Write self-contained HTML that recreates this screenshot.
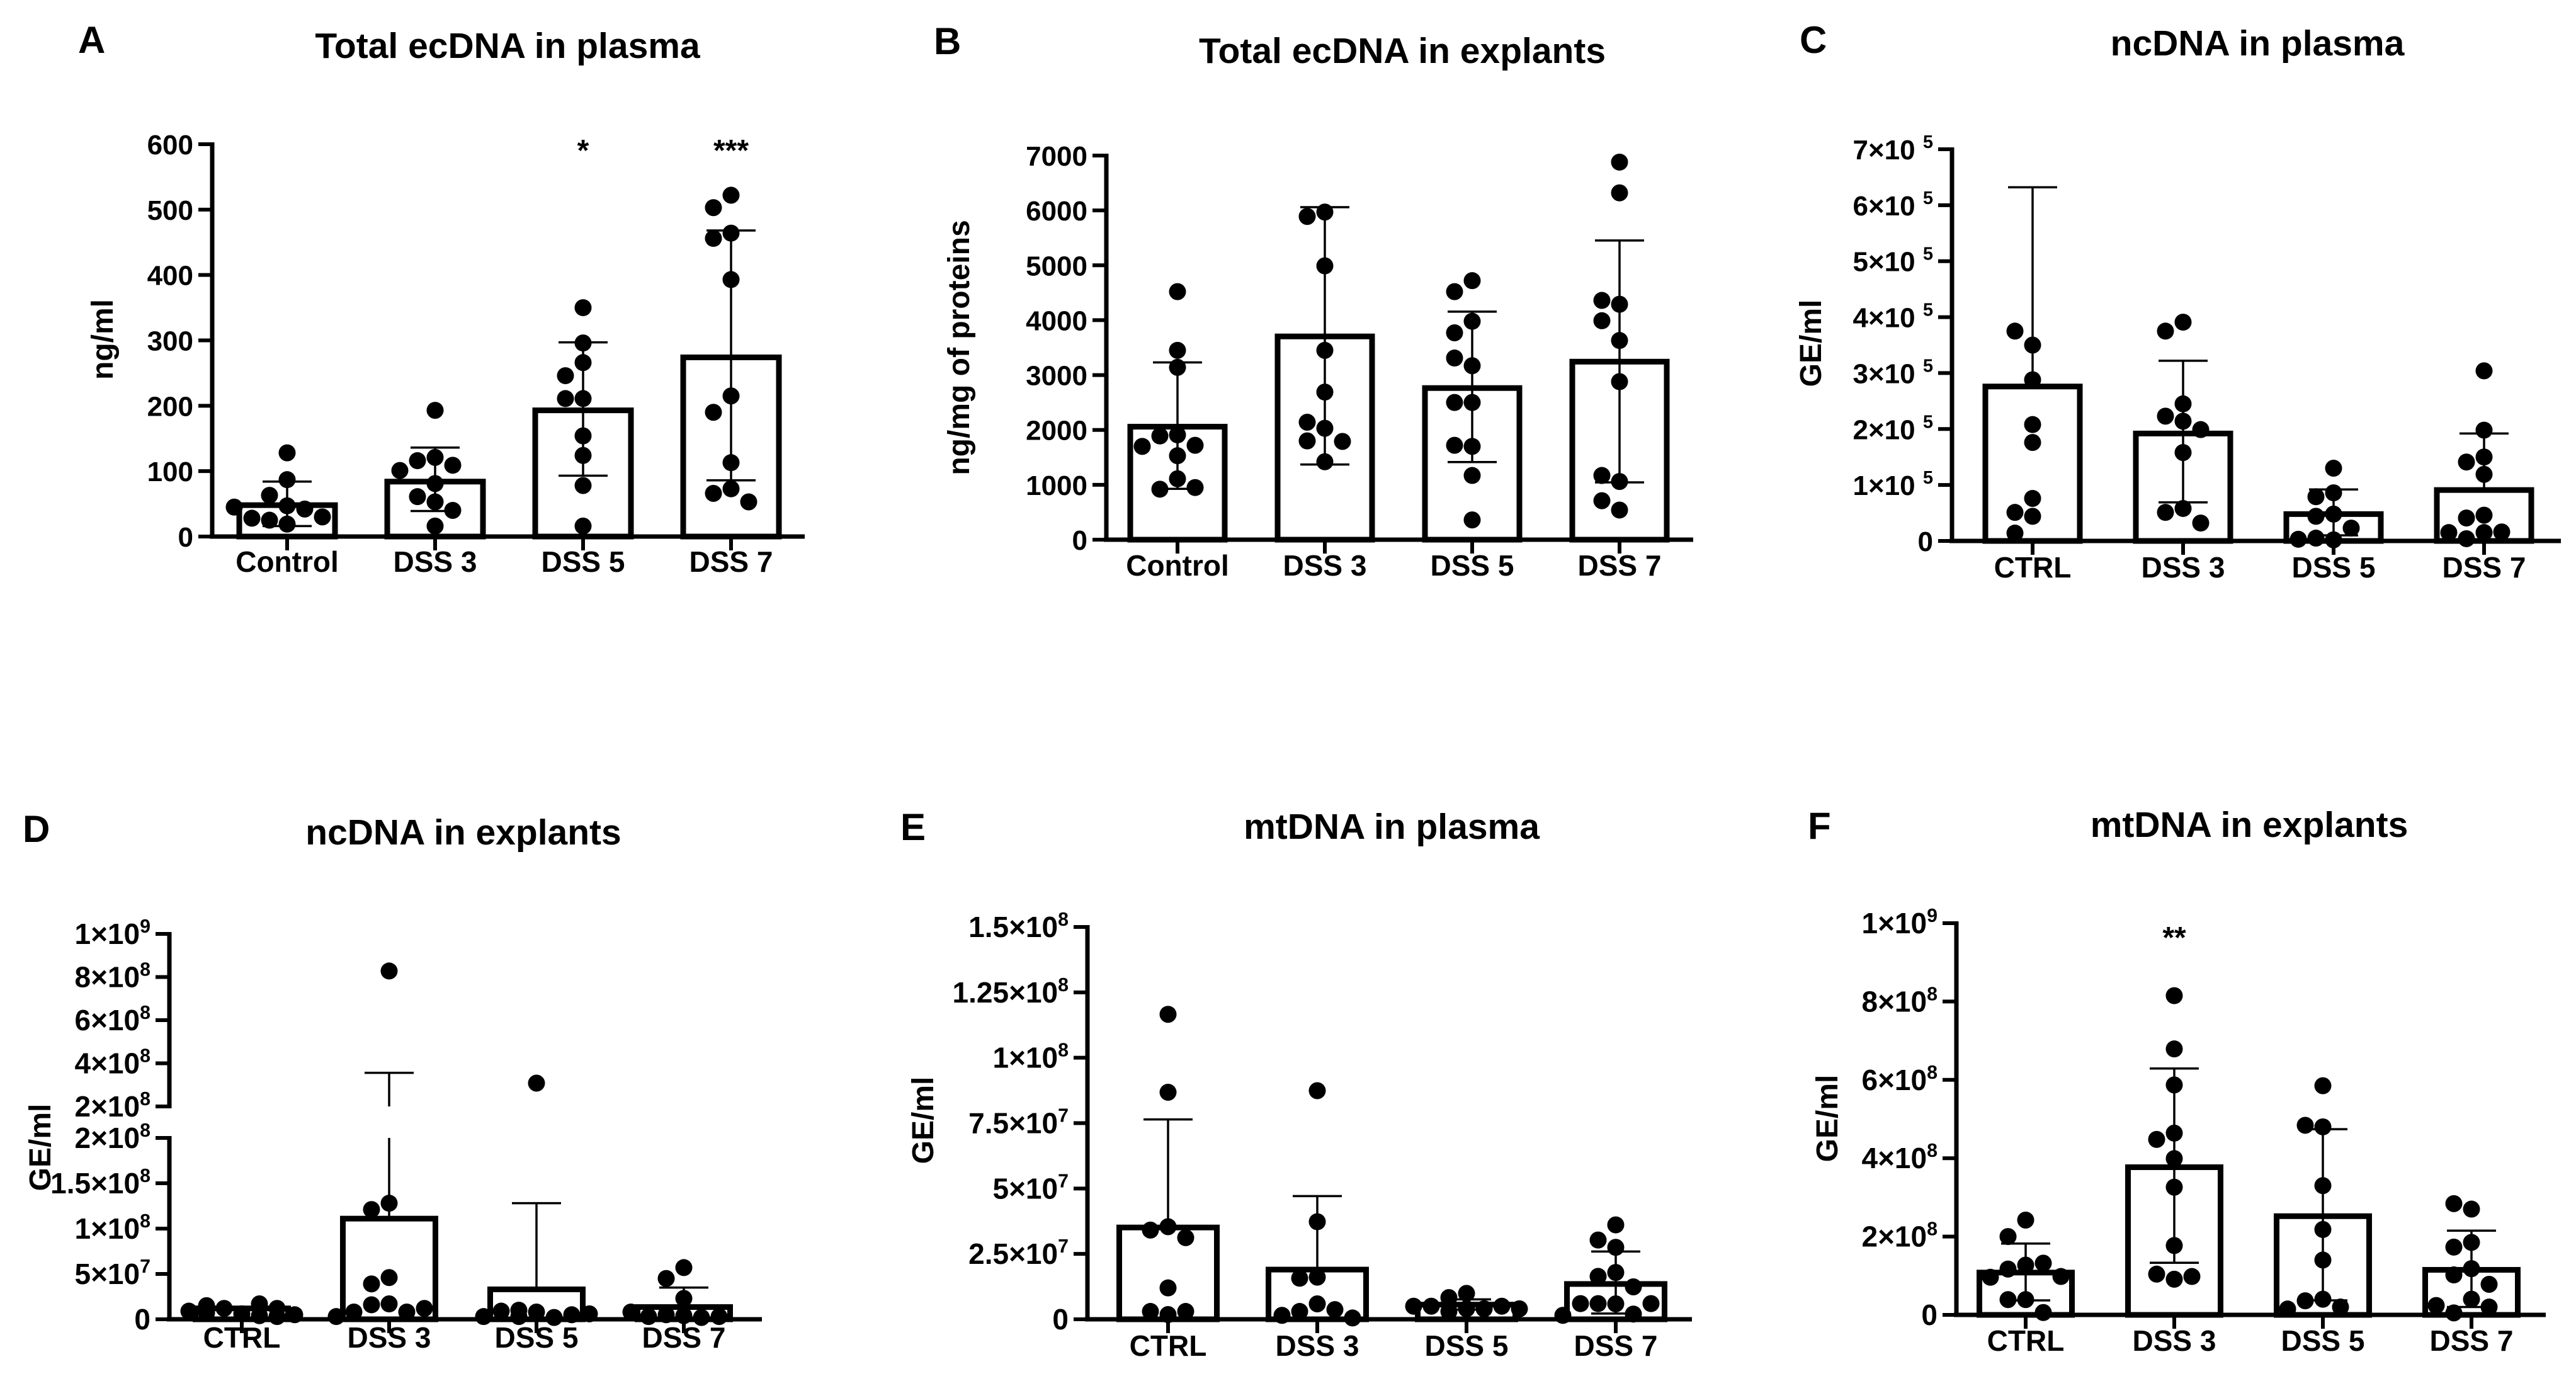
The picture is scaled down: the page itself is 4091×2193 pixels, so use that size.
<!DOCTYPE html>
<html><head><meta charset="utf-8"><style>
html,body{margin:0;padding:0;background:#fff;}
svg{display:block;font-family:"Liberation Sans",Arial,sans-serif;font-weight:bold;}
</style></head><body>
<svg id="fig" xmlns="http://www.w3.org/2000/svg" width="4091" height="2193" viewBox="0 0 4091 2193"></svg>
<script>
// ---------- data ----------
const catsA = ["Control","DSS 3","DSS 5","DSS 7"];
const catsB = ["Control","DSS 3","DSS 5","DSS 7"];
const catsCF = ["CTRL","DSS 3","DSS 5","DSS 7"];

const aMeans = [48, 84, 193, 274];
const aHi = [84, 136, 297, 468];
const aLo = [16, 39, 93, 86];
const aDots = [
  [128, 87, 63, 47, 42, 25, 28, 30, 19, 45],
  [193, 121, 116, 109, 101, 81, 61, 53, 40, 16],
  [350, 296, 266, 246, 211, 211, 154, 124, 78, 16],
  [522, 503, 464, 456, 393, 215, 190, 113, 73, 66, 53]
];
const aStars = ["", "", "*", "***"];
const aTicks = [0, 100, 200, 300, 400, 500, 600];

const bMeans = [2059, 3704, 2763, 3244];
const bHi = [3230, 6059, 4156, 5452];
const bLo = [926, 1370, 1415, 1044];
const bDots = [
  [4520, 3450, 3140, 1910, 1890, 1720, 1700, 1530, 1110, 920, 950],
  [5970, 5890, 4990, 3450, 2690, 2030, 2140, 1800, 1790, 1420],
  [4720, 4520, 3980, 3770, 3170, 3310, 2500, 2500, 1700, 1720, 1170, 360],
  [6880, 6320, 4290, 4360, 3990, 3630, 2880, 1060, 1170, 540, 710]
];
const bTicks = [0, 1000, 2000, 3000, 4000, 5000, 6000, 7000];

const cMeans = [2.76e5, 1.92e5, 0.48e5, 0.91e5];
const cHi = [6.32e5, 3.22e5, 0.92e5, 1.92e5];
const cLo = [-1, 0.69e5, 0.10e5, -1];
const cDots = [
  [3.50e5, 3.75e5, 2.88e5, 2.08e5, 1.76e5, 0.76e5, 0.51e5, 0.44e5, 0.14e5],
  [3.91e5, 3.75e5, 2.45e5, 2.23e5, 2.14e5, 1.99e5, 1.58e5, 0.58e5, 0.51e5, 0.32e5],
  [1.30e5, 0.86e5, 0.79e5, 0.48e5, 0.44e5, 0.23e5, 0.02e5, 0.05e5, 0.03e5],
  [3.04e5, 1.98e5, 1.50e5, 1.41e5, 1.19e5, 0.46e5, 0.41e5, 0.16e5, 0.15e5, 0.15e5, 0.04e5]
];
const cTicks = [0, 1, 2, 3, 4, 5, 6, 7];

const dMeans = [1.2e7, 11.1e7, 3.3e7, 1.35e7];
const dHi = [-1, 35.6e7, 12.8e7, 3.5e7];
const dLo = [-1, -1, -1, -1];
const dDots = [
  [0.6e7, 1.2e7, 1.7e7, 1.5e7, 0.3e7, 0.9e7, 0.5e7, 1.2e7, 0.4e7, 0.7e7],
  [82.8e7, 12.8e7, 12.1e7, 4.6e7, 3.9e7, 1.7e7, 1.6e7, 0.8e7, 0.8e7, 1.2e7, 0.3e7],
  [30.8e7, 0.8e7, 1.0e7, 0.2e7, 0.9e7, 0.5e7, 0.3e7, 0.6e7, 0.3e7],
  [5.7e7, 4.5e7, 2.3e7, 0.5e7, 0.4e7, 0.2e7, 0.3e7, 0.3e7, 0.8e7]
];
const dTickLow = ["0", "5×10|7", "1×10|8", "1.5×10|8", "2×10|8"];
const dTickHigh = ["2×10|8", "4×10|8", "6×10|8", "8×10|8", "1×10|9"];

const eMeans = [3.51e7, 1.90e7, 0.56e7, 1.35e7];
const eHi = [7.64e7, 4.71e7, 0.76e7, 2.59e7];
const eLo = [-1, -1, 0.37e7, 0.22e7];
const eDots = [
  [11.66e7, 8.68e7, 3.54e7, 3.41e7, 3.12e7, 1.2e7, 0.18e7, 0.3e7, 0.3e7],
  [8.74e7, 3.73e7, 1.61e7, 1.57e7, 0.59e7, 0.3e7, 0.37e7, 0.15e7, 0.05e7],
  [0.99e7, 0.83e7, 0.4e7, 0.5e7, 0.5e7, 0.5e7, 0.4e7, 0.4e7, 0.3e7],
  [3.61e7, 3.03e7, 2.75e7, 1.79e7, 1.64e7, 1.24e7, 0.59e7, 0.6e7, 0.6e7, 0.6e7, 0.2e7, 0.15e7]
];
const eTicks = ["0", "2.5×10|7", "5×10|7", "7.5×10|7", "1×10|8", "1.25×10|8", "1.5×10|8"];

const fMeans = [1.08e8, 3.77e8, 2.52e8, 1.15e8];
const fHi = [1.82e8, 6.29e8, 4.74e8, 2.15e8];
const fLo = [0.37e8, 1.33e8, 0.37e8, 0.20e8];
const fDots = [
  [2.42e8, 2.00e8, 1.27e8, 1.17e8, 1.32e8, 0.96e8, 0.98e8, 0.39e8, 0.39e8, 0.06e8],
  [8.15e8, 6.79e8, 5.87e8, 4.64e8, 4.48e8, 3.99e8, 3.26e8, 1.77e8, 0.91e8, 1.04e8, 0.98e8],
  [5.85e8, 4.80e8, 4.84e8, 3.30e8, 2.18e8, 1.40e8, 0.40e8, 0.36e8, 0.20e8, 0.15e8],
  [2.70e8, 2.84e8, 1.85e8, 1.73e8, 1.18e8, 1.02e8, 0.78e8, 0.40e8, 0.05e8, 0.20e8, 0.24e8]
];
const fStars = ["", "**", "", ""];
const fTicks = ["0", "2×10|8", "4×10|8", "6×10|8", "8×10|8", "1×10|9"];

// ---------- drawing ----------
const NS = "http://www.w3.org/2000/svg";
const svg = document.getElementById("fig");
function mk(tag, attrs, parent){
  const el = document.createElementNS(NS, tag);
  for (const k in attrs) el.setAttribute(k, attrs[k]);
  (parent || svg).appendChild(el);
  return el;
}
function line(g, x1, y1, x2, y2, w){
  return mk("line", {x1:x1, y1:y1, x2:x2, y2:y2, stroke:"#000", "stroke-width":w}, g);
}
function label(g, txt, x, y, fs, anchor){
  const parts = String(txt).split("|");
  const t = mk("text", {x:x, y:y, "font-size":fs, "text-anchor":anchor || "end", fill:"#000"}, g);
  t.appendChild(document.createTextNode(parts[0]));
  if (parts.length > 1){
    const sp = mk("tspan", {dy:-18, "font-size":fs*0.66}, t);
    sp.textContent = parts[1];
  }
  return t;
}

function drawPanel(c){
  const g = mk("g", {});
  
  
  const L = mk("text", {x:c.letterX, y:c.letterY, "font-size":60, fill:"#000"}, g);
  L.textContent = c.letter;
  
  
  const T = mk("text", {x:c.titleX, y:c.titleY, "font-size":57, "text-anchor":"middle", fill:"#000"}, g);
  T.textContent = c.title;
  
  
  const YL = mk("text", {x:0, y:0, "font-size":48, "text-anchor":"middle", fill:"#000",
    transform:"translate(" + (c.ylabX + 17) + "," + c.ylabY + ") rotate(-90)"}, g);
  YL.textContent = c.ylab;
  
  

  const ax = mk("g", {}, g);
  
  
  if (c.segments){
    c.segments.forEach(s => line(ax, c.ax, s[0] + 3, c.ax, s[1] - 3, 7));
  } else {
    line(ax, c.ax, c.y0 + 3, c.ax, c.scale(c.vmax) - 3, 7);
  }
  c.ticks.forEach(tk => {
    const y = tk.y;
    line(ax, c.ax - 22, y, c.ax, y, 6);
    const tl = label(ax, tk.label, c.ax - 30, y + 16, c.tickFs || 44, "end");
    
    
  });
  const xa = mk("g", {}, g);
  
  
  line(xa, c.ax - 4, c.y0, c.axEnd, c.y0, 7);
  c.cats.forEach((name, i) => {
    const cx = c.cx0 + i * c.step;
    line(xa, cx, c.y0, cx, c.y0 + 22, 6);
    const cl = label(xa, name, cx, c.catY, 46, "middle");
    
    
  });

  c.means.forEach((m, i) => {
    const cx = c.cx0 + i * c.step;
    const bg = mk("g", {}, g);
    
    
    const yt = c.scale(m);
    const bw = c.barW;
    const bar = mk("rect", {x:cx - bw/2, y:yt, width:bw, height:Math.max(0, c.y0 - yt), fill:"#fff", stroke:"#000", "stroke-width":9}, bg);
    
    
    const hi = c.hi[i], lo = c.lo[i];
    if (hi > 0){
      const yh = c.scale(hi);
      if (c.breakGap && yh < c.breakGap[1]){
        line(bg, cx, yt, cx, c.breakGap[0], 3.5);
        line(bg, cx, c.breakGap[1], cx, yh, 3.5);
      } else {
        line(bg, cx, yt, cx, yh, 3.5);
      }
      const cap = line(bg, cx - 39, yh, cx + 39, yh, 3.5);
      
      
    }
    if (lo > 0){
      const yl = c.scale(lo);
      line(bg, cx, yt, cx, yl, 3.5);
      const cap2 = line(bg, cx - 39, yl, cx + 39, yl, 3.5);
      
      
    }
    const placed = [];
    c.dots[i].forEach(v => {
      const y = c.scale(v);
      let best = 0, bestCost = 1e9;
      for (let k = 0; k < 7; k++){
        const cand = k === 0 ? 0 : (k % 2 ? -1 : 1) * Math.ceil(k / 2) * 28;
        let cost = 0;
        for (const p of placed){
          const dx = (p[0] - cand) / 27, dy = (p[1] - y) / 27;
          const d2 = dx*dx + dy*dy;
          if (d2 < 1) cost += 1 - d2;
        }
        cost += Math.abs(cand) * 0.0005;
        if (cost < bestCost - 1e-9){ bestCost = cost; best = cand; }
      }
      placed.push([best, y]);
      const dot = mk("circle", {cx:cx + best, cy:y, r:13.5, fill:"#000"}, bg);
      
      
    });
    if (c.stars && c.stars[i]){
      const st = mk("text", {x:cx, y:c.starY, "font-size":48, "text-anchor":"middle", fill:"#000"}, bg);
      st.textContent = c.stars[i];
      
      
    }
  });
}

function linScale(y0, ytop, vmax){ return v => y0 - (v / vmax) * (y0 - ytop); }
function ticksFrom(vals, labels, scale){ return vals.map((v, i) => ({y:scale(v), label:labels[i]})); }

{
  const sc = linScale(852, 229, 600);
  drawPanel({key:"a", letter:"A", letterX:124, letterY:84, title:"Total ecDNA in plasma", titleX:806, titleY:92,
    ylab:"ng/ml", ylabX:162, ylabY:539, ax:337, axEnd:1278, y0:852, vmax:600, scale:sc,
    ticks:ticksFrom(aTicks, aTicks.map(String), sc), cats:catsA, cx0:456, step:235, barW:152, catY:908,
    means:aMeans, hi:aHi, lo:aLo, dots:aDots, stars:aStars, starY:255});
}
{
  const sc = linScale(857, 247, 7000);
  drawPanel({key:"b", letter:"B", letterX:1483, letterY:86, title:"Total ecDNA in explants", titleX:2227, titleY:100,
    ylab:"ng/mg of proteins", ylabX:1522, ylabY:552, ax:1757, axEnd:2689, y0:857, vmax:7000, scale:sc,
    ticks:ticksFrom(bTicks, bTicks.map(String), sc), cats:catsB, cx0:1870, step:234, barW:150, catY:914,
    means:bMeans, hi:bHi, lo:bLo, dots:bDots});
}
{
  const sc = linScale(859, 237, 7e5);
  drawPanel({key:"c", letter:"C", letterX:2858, letterY:84, title:"ncDNA in plasma", titleX:3585, titleY:88,
    ylab:"GE/ml", ylabX:2875, ylabY:545, ax:3100, axEnd:4067, y0:859, vmax:7e5, scale:sc,
    ticks:ticksFrom(cTicks.map(v => v * 1e5), cTicks.map(v => v === 0 ? "0" : v + "×10 |5"), sc),
    cats:catsCF, cx0:3228, step:239, barW:150, catY:917,
    means:cMeans, hi:cHi, lo:cLo, dots:cDots});
}
{
  const y0 = 2095, yLowTop = 1807, yHighBot = 1757, yTop = 1483;
  const sc = v => v <= 2e8 ? y0 - v / 2e8 * (y0 - yLowTop)
                           : yHighBot - (v - 2e8) / 8e8 * (yHighBot - yTop);
  const lowVals = [0, 5e7, 1e8, 1.5e8, 2e8];
  const ticks = lowVals.map((v, i) => ({y:y0 - v / 2e8 * (y0 - yLowTop), label:dTickLow[i]}))
    .concat([2e8, 4e8, 6e8, 8e8, 1e9].map((v, i) => ({y:yHighBot - (v - 2e8) / 8e8 * (yHighBot - yTop), label:dTickHigh[i]})));
  drawPanel({key:"d", letter:"D", letterX:36, letterY:1337, title:"ncDNA in explants", titleX:736, titleY:1341,
    ylab:"GE/ml", ylabX:63, ylabY:1822, ax:269, axEnd:1210, y0:y0, vmax:1e9, scale:sc,
    segments:[[y0, yLowTop], [yHighBot, yTop]], breakGap:[yLowTop, yHighBot], tickFs:46,
    ticks:ticks, cats:catsCF, cx0:384, step:234, barW:147, catY:2140,
    means:dMeans, hi:dHi, lo:dLo, dots:dDots});
}
{
  const sc = linScale(2095, 1472, 1.5e8);
  const vals = [0, 2.5e7, 5e7, 7.5e7, 1e8, 1.25e8, 1.5e8];
  drawPanel({key:"e", letter:"E", letterX:1430, letterY:1334, title:"mtDNA in plasma", titleX:2210, titleY:1332,
    ylab:"GE/ml", ylabX:1465, ylabY:1779, ax:1727, axEnd:2687, y0:2095, vmax:1.5e8, scale:sc, tickFs:46,
    ticks:ticksFrom(vals, eTicks, sc), cats:catsCF, cx0:1855, step:237, barW:155, catY:2153,
    means:eMeans, hi:eHi, lo:eLo, dots:eDots});
}
{
  const sc = linScale(2088, 1466, 1e9);
  const vals = [0, 2e8, 4e8, 6e8, 8e8, 1e9];
  drawPanel({key:"f", letter:"F", letterX:2871, letterY:1332, title:"mtDNA in explants", titleX:3572, titleY:1329,
    ylab:"GE/ml", ylabX:2901, ylabY:1776, ax:3107, axEnd:4043, y0:2088, vmax:1e9, scale:sc, tickFs:46,
    ticks:ticksFrom(vals, fTicks, sc), cats:catsCF, cx0:3217, step:236, barW:147, catY:2145,
    means:fMeans, hi:fHi, lo:fLo, dots:fDots, stars:fStars, starY:1505});
}
</script>
</body></html>
